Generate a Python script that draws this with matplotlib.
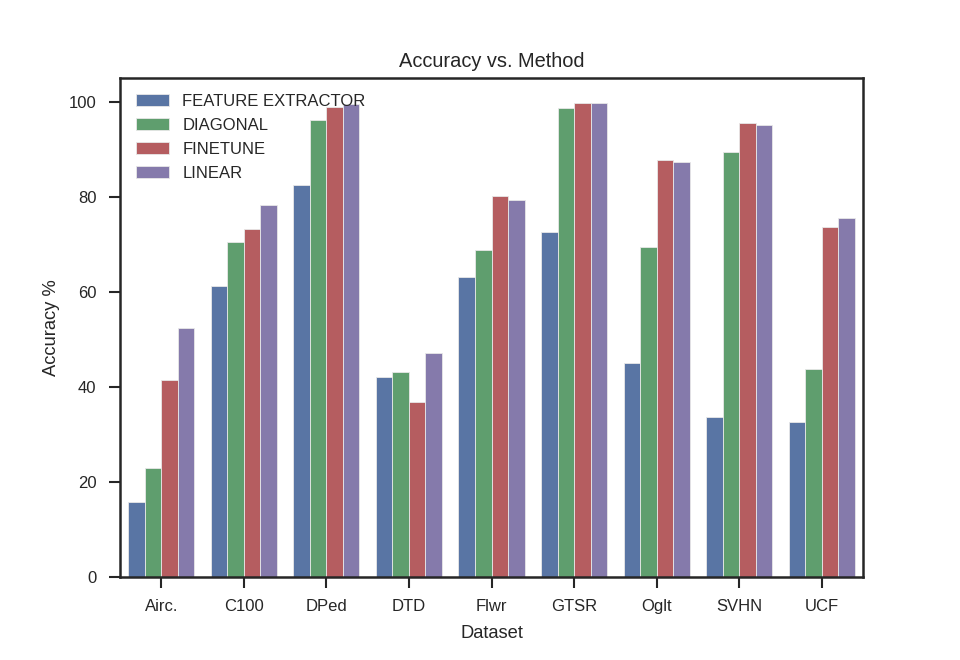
import matplotlib
matplotlib.use("Agg")
import matplotlib.pyplot as plt
import numpy as np


# --------------------------------------------------------
# Data
# --------------------------------------------------------

datasets = ["Airc.", "C100", "DPed", "DTD", "Flwr", "GTSR", "Oglt", "SVHN", "UCF"]

methods = ["FEATURE EXTRACTOR", "DIAGONAL", "FINETUNE", "LINEAR"]

feature_extractor = [15.7, 61.3, 82.5, 42.0, 63.1, 72.6, 45.1, 33.6, 32.5]
diagonal = [22.8, 70.4, 96.2, 43.2, 68.8, 98.6, 69.4, 89.5, 43.7]
finetune = [41.5, 73.3, 98.9, 36.7, 80.1, 99.8, 87.7, 95.5, 73.6]
linear = [52.3, 78.3, 99.4, 47.1, 79.2, 99.7, 87.3, 95.0, 75.5]

colors = ["#5975a4", "#5f9e6e", "#b55d60", "#857aab"]


# --------------------------------------------------------
# Style
# --------------------------------------------------------

plt.rcParams["font.family"] = ["Liberation Sans", "DejaVu Sans"]
plt.rcParams["text.color"] = "#262626"
plt.rcParams["axes.labelcolor"] = "#262626"
plt.rcParams["xtick.color"] = "#262626"
plt.rcParams["ytick.color"] = "#262626"


# --------------------------------------------------------
# Plot
# --------------------------------------------------------

fig = plt.figure(figsize=(9.6, 6.6), dpi=100)
ax = fig.add_axes([0.125, 0.126, 0.774, 0.756])

series = [feature_extractor, diagonal, finetune, linear]

x = np.arange(len(datasets))
width = 0.8 / len(series)

for i, (name, values) in enumerate(zip(methods, series)):

    ax.bar(
        x - 0.4 + width * (i + 0.5),
        values,
        width,
        color=colors[i],
        edgecolor="#e8e8e8",
        linewidth=0.6,
        label=name,
        zorder=2,
    )

ax.set_xlim(-0.5, len(datasets) - 0.5)
ax.set_ylim(0, 105)

ax.set_xticks(x)
ax.set_xticklabels(datasets)
ax.set_yticks([0, 20, 40, 60, 80, 100])

ax.tick_params(axis="both", labelsize=12, length=8, width=1.5, direction="out")
ax.tick_params(axis="x", pad=8)
ax.tick_params(axis="y", pad=9)

for spine in ax.spines.values():
    spine.set_linewidth(1.8)
    spine.set_color("#262626")

ax.set_title("Accuracy vs. Method", fontsize=14.4, pad=8)
ax.set_xlabel("Dataset", fontsize=13.2, labelpad=8)
ax.set_ylabel("Accuracy %", fontsize=13.2, labelpad=6)

ax.legend(
    loc="upper left",
    frameon=False,
    fontsize=12,
    labelspacing=0.54,
    borderaxespad=0.55,
)

fig.savefig("out.png", dpi=100)
